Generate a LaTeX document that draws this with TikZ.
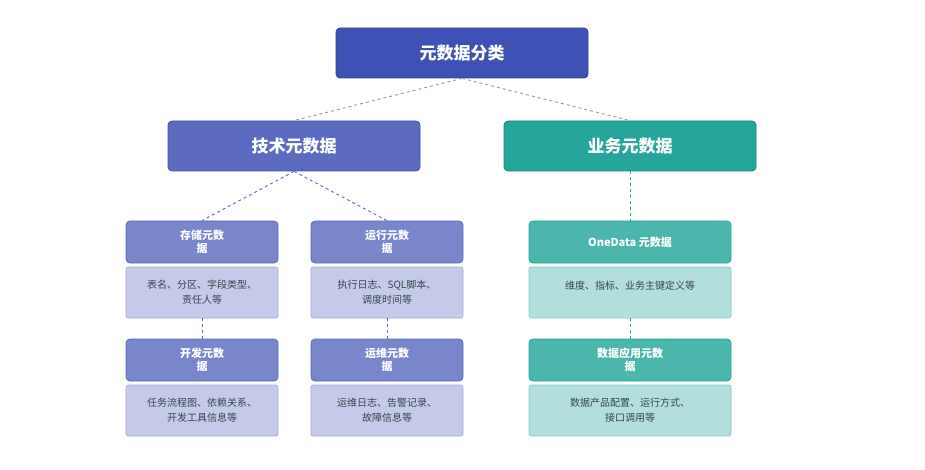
\documentclass[tikz,border=0pt]{standalone}
\usepackage{fontspec}
\setmainfont{Noto Sans CJK SC}
\usetikzlibrary{positioning}
\definecolor{rootc}{HTML}{3F51B5}
\definecolor{techc}{HTML}{5C6BC0}
\definecolor{techs}{HTML}{7986CB}
\definecolor{techd}{HTML}{C5CAE9}
\definecolor{bizc}{HTML}{26A69A}
\definecolor{bizs}{HTML}{4DB6AC}
\definecolor{bizd}{HTML}{B2DFDB}
\definecolor{txt}{HTML}{37474F}
\tikzset{
  box/.style={rounded corners=4pt, line width=0.8pt, align=center, text=white, font=\bfseries},
  big/.style={box, minimum width=252pt, minimum height=50pt, font=\bfseries\fontsize{17}{20}\selectfont},
  head/.style={box, minimum height=42pt, font=\bfseries\fontsize{11}{13}\selectfont},
  desc/.style={rounded corners=2pt, line width=0.6pt, align=center, minimum height=51pt, text=txt, font=\fontsize{10}{15}\selectfont},
  link/.style={dashed, line width=0.9pt}
}
\begin{document}
\begin{tikzpicture}[x=1pt,y=-1pt]
  \useasboundingbox (0,0) rectangle (925,470);
  \node[big, fill=rootc, draw=rootc!80!black] (root) at (462,53) {元数据分类};
  \node[big, fill=techc, draw=rootc] (tech) at (294,146) {技术元数据};
  \node[big, fill=bizc, draw=bizc!80!black] (biz) at (630,146) {业务元数据};

  \node[head, minimum width=152pt, fill=techs, draw=techc] (store) at (202,242) {存储元数\\据};
  \node[desc, minimum width=152pt, fill=techd, draw=techs!70] (stored) at (202,292.5) {表名、分区、字段类型、\\责任人等};
  \node[head, minimum width=152pt, fill=techs, draw=techc] (dev) at (202,360) {开发元数\\据};
  \node[desc, minimum width=152pt, fill=techd, draw=techs!70] (devd) at (202,410.5) {任务流程图、依赖关系、\\开发工具信息等};

  \node[head, minimum width=152pt, fill=techs, draw=techc] (run) at (387,242) {运行元数\\据};
  \node[desc, minimum width=152pt, fill=techd, draw=techs!70] (rund) at (387,292.5) {执行日志、SQL脚本、\\调度时间等};
  \node[head, minimum width=152pt, fill=techs, draw=techc] (ops) at (387,360) {运维元数\\据};
  \node[desc, minimum width=152pt, fill=techd, draw=techs!70] (opsd) at (387,410.5) {运维日志、告警记录、\\故障信息等};

  \node[head, minimum width=202pt, fill=bizs, draw=bizc] (one) at (630,242) {OneData 元数据};
  \node[desc, minimum width=202pt, fill=bizd, draw=bizs!70] (oned) at (630,292.5) {维度、指标、业务主键定义等\\\mbox{}};
  \node[head, minimum width=202pt, fill=bizs, draw=bizc] (app) at (630,360) {数据应用元数\\据};
  \node[desc, minimum width=202pt, fill=bizd, draw=bizs!70] (appd) at (630,410.5) {数据产品配置、运行方式、\\接口调用等};

  % connectors
  \draw[link, draw=gray!80] (root.south) -- (tech.north);
  \draw[link, draw=gray!80] (root.south) -- (biz.north);
  \draw[link, draw=techc] (tech.south) -- (store.north);
  \draw[link, draw=techc] (tech.south) -- (run.north);
  \draw[link, draw=bizc] (biz.south) -- (one.north);
  \draw[link, draw=techc] (stored.south) -- (dev.north);
  \draw[link, draw=techc] (rund.south) -- (ops.north);
  \draw[link, draw=bizc] (oned.south) -- (app.north);
\end{tikzpicture}
\end{document}
